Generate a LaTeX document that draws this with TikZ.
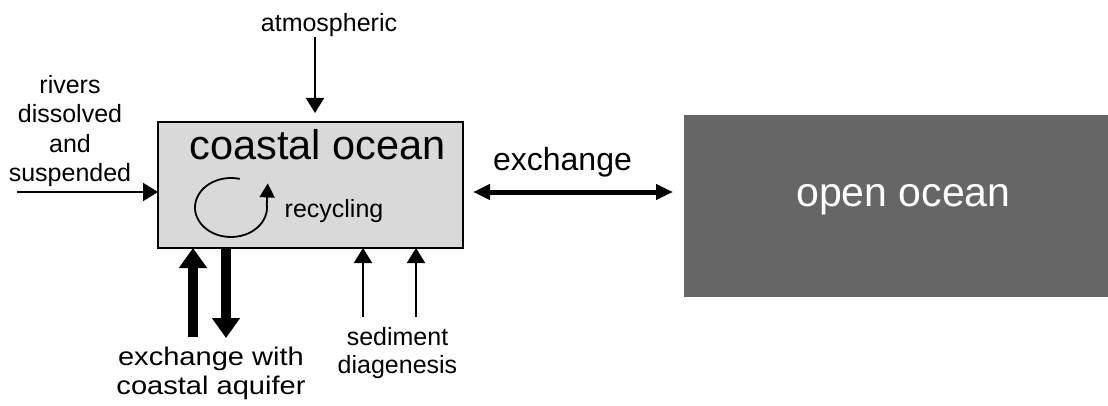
\documentclass[tikz,border=0pt]{standalone}
\usepackage{fontspec}
\setmainfont{Liberation Sans}
\newfontfamily\widesans[FakeStretch=1.14]{Liberation Sans}
\usetikzlibrary{arrows.meta,bending}
\definecolor{coastfill}{gray}{0.85}
\definecolor{openfill}{gray}{0.40}
\tikzset{
  lbl/.style={inner sep=0pt, outer sep=0pt, align=center, font=\fontsize{25}{28.3}\selectfont},
  thinarrow/.style={line width=2pt, -{Triangle[length=15pt,width=18pt]}},
  thickarrow/.style={line width=10pt, -{Triangle[length=20pt,width=27pt]}},
  exarrow/.style={line width=5pt, {Triangle[length=17pt,width=15pt]}-{Triangle[length=17pt,width=15pt]}},
  coastbox/.style={draw=black, line width=2pt, fill=coastfill, minimum width=305pt, minimum height=126pt, inner sep=0pt, outer sep=0pt},
  openbox/.style={fill=openfill, minimum width=424pt, minimum height=182pt, inner sep=0pt, outer sep=0pt},
}
\begin{document}
\begin{tikzpicture}[x=1pt,y=1pt]
\useasboundingbox (0,0) rectangle (1108,405);
% boxes
\node[coastbox] (box) at (310.5,220) {};
\node[openbox] (open) at (896,199) {};
% texts
\node[lbl, anchor=base] (atm) at (329,373.3) {atmospheric};
\node[lbl, anchor=north, font=\fontsize{25}{29.5}\selectfont] (riv) at (70,330) {rivers\\dissolved\\and\\suspended};
\node[inner sep=0pt, anchor=base, font=\fontsize{41.5}{45}\selectfont] (coast) at (317.5,245) {coastal ocean};
\node[lbl, anchor=base] (rec) at (334,188) {recycling};
\node[inner sep=0pt, anchor=base, font=\fontsize{32}{36}\selectfont] (exl) at (562.5,235) {exchange};
\node[inner sep=0pt, anchor=base, text=white, font=\fontsize{41}{45}\selectfont] (openl) at (903.5,198.3) {open ocean};
\node[lbl, anchor=north, font=\widesans\fontsize{25.5}{29}\selectfont] (aq) at (211,58) {exchange with\\coastal aquifer};
\node[lbl, anchor=north] (sed) at (397.5,77.5) {sediment\\diagenesis};
% free ends
\coordinate (atmstart) at (315,368);
\coordinate (rivstart) at (17,213);
\coordinate (aqup) at (193,68);
\coordinate (aqdown) at (226,67);
\coordinate (seda) at (363,88);
\coordinate (sedb) at (416,88);
\coordinate (exy) at (0,213);
\coordinate (rc) at (231,197.5);
% connectors
\draw[thinarrow, shorten >=9pt] (atmstart) -- (atmstart |- box.north);
\draw[thinarrow] (rivstart) -- (rivstart -| box.west);
\draw[thickarrow] (aqup) -- (aqup |- box.south);
\draw[thickarrow] (aqdown |- box.south) -- (aqdown);
\draw[thinarrow] (seda) -- (seda |- box.south);
\draw[thinarrow] (sedb) -- (sedb |- box.south);
\draw[exarrow, shorten <=10pt, shorten >=11pt] (box.east |- exy) -- (open.west |- exy);
% recycling loop
\draw[line width=1.8pt, -{Triangle[length=14pt,width=15pt]}] (rc) ++(76:36 and 29.5) arc[start angle=76, end angle=366, x radius=36, y radius=29.5] -- ++(1,21);
\end{tikzpicture}
\end{document}
